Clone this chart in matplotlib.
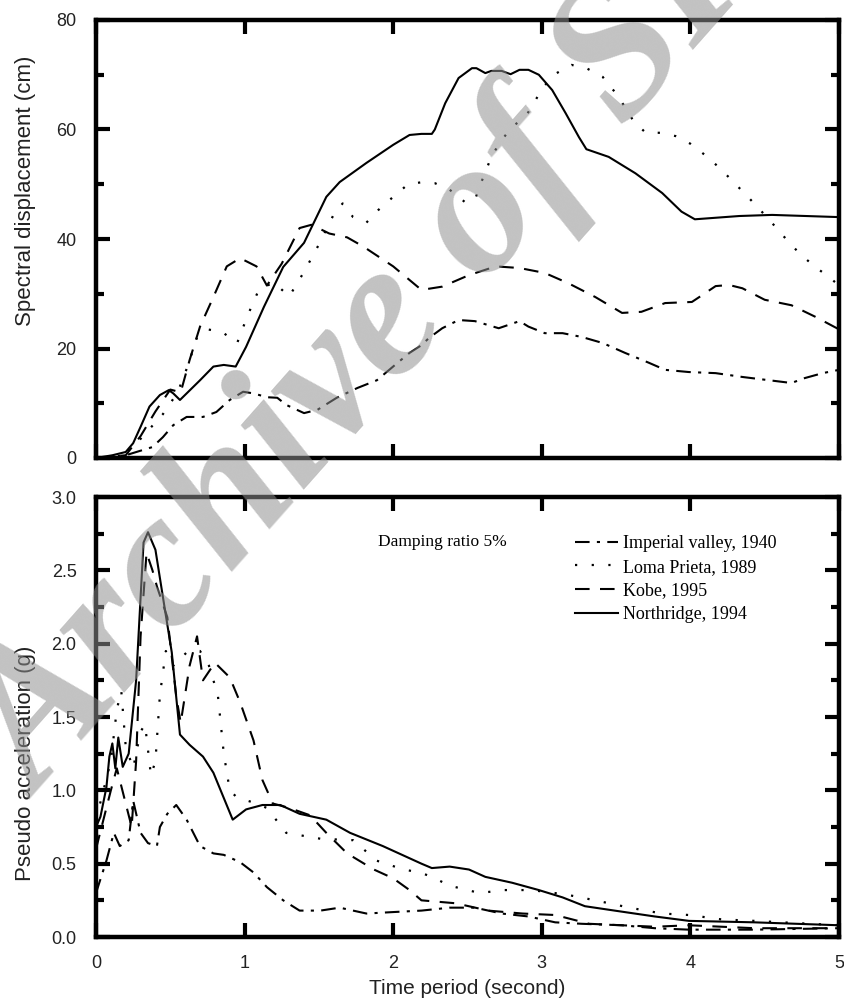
import matplotlib
matplotlib.use("Agg")
import matplotlib.pyplot as plt
from matplotlib.ticker import MultipleLocator

# ---------------- data ----------------
# Top: spectral displacement (cm)
sd_north_x = [0, 0.11, 0.2, 0.25, 0.3, 0.36, 0.43, 0.49, 0.52, 0.565, 0.61, 0.70, 0.79, 0.86, 0.94, 1.01, 1.13, 1.26, 1.40, 1.55, 1.64, 1.82, 2.0, 2.11, 2.19, 2.26, 2.28, 2.35, 2.44, 2.53, 2.56, 2.62, 2.66, 2.73, 2.79, 2.85, 2.91, 2.98, 3.07, 3.16, 3.25, 3.30, 3.45, 3.63, 3.81, 3.94, 4.03, 4.33, 4.55, 5.0]
sd_north_y = [0, 0.5, 1.1, 2.7, 5.7, 9.4, 11.5, 12.4, 11.8, 10.6, 11.8, 14.2, 16.7, 17.0, 16.7, 20.3, 27.6, 34.9, 39.3, 47.7, 50.4, 53.9, 57.2, 59.0, 59.2, 59.2, 60.0, 64.8, 69.4, 71.2, 71.2, 70.3, 70.7, 70.7, 70.1, 70.9, 70.9, 70.0, 67.2, 63.0, 58.6, 56.4, 55.0, 52.0, 48.4, 45.0, 43.6, 44.2, 44.4, 44.0]

sd_loma_x = [0, 0.15, 0.25, 0.35, 0.45, 0.55, 0.62, 0.68, 0.75, 0.85, 0.95, 1.02, 1.1, 1.2, 1.3, 1.4, 1.5, 1.6, 1.66, 1.73, 1.82, 1.9, 2.0, 2.1, 2.2, 2.28, 2.38, 2.48, 2.55, 2.58, 2.62, 2.66, 2.72, 2.80, 2.89, 2.95, 3.01, 3.10, 3.20, 3.30, 3.41, 3.49, 3.56, 3.62, 3.70, 3.80, 3.90, 4.0, 4.10, 4.20, 4.29, 4.38, 4.47, 4.56, 4.65, 4.74, 4.84, 4.94, 5.0]
sd_loma_y = [0, 0.3, 2.0, 5.0, 8.0, 12.0, 17.0, 22.0, 23.5, 23.0, 21.0, 26.0, 31.0, 32.0, 29.5, 34.0, 39.0, 44.5, 46.5, 44.0, 43.0, 45.3, 47.7, 50.0, 50.4, 50.2, 49.0, 46.8, 47.1, 49.5, 52.2, 55.0, 57.7, 60.5, 62.3, 65.0, 67.8, 70.3, 71.8, 71.2, 69.6, 66.9, 64.1, 61.4, 59.4, 59.4, 58.8, 57.4, 55.3, 52.9, 50.4, 47.9, 45.3, 42.6, 39.8, 37.2, 34.9, 32.9, 31.5]

sd_kobe_x = [0, 0.2, 0.3, 0.4, 0.5, 0.57, 0.63, 0.70, 0.79, 0.88, 0.97, 1.08, 1.15, 1.25, 1.37, 1.45, 1.57, 1.69, 1.80, 2.0, 2.19, 2.33, 2.51, 2.69, 2.85, 3.02, 3.18, 3.36, 3.54, 3.67, 3.83, 4.01, 4.06, 4.17, 4.26, 4.35, 4.50, 4.68, 4.84, 5.0]
sd_kobe_y = [0, 0.5, 4.0, 8.5, 12.5, 12.0, 17.9, 24.0, 29.4, 35.0, 36.5, 35.0, 31.5, 35.5, 42.0, 42.6, 41.0, 40.3, 38.6, 35.0, 30.7, 31.3, 33.4, 35.0, 34.7, 33.8, 31.9, 29.4, 26.5, 26.7, 28.3, 28.5, 29.4, 31.4, 31.6, 31.0, 28.9, 27.9, 25.8, 23.5]

sd_imp_x = [0, 0.2, 0.38, 0.45, 0.52, 0.61, 0.72, 0.81, 0.90, 0.99, 1.06, 1.15, 1.22, 1.28, 1.40, 1.49, 1.62, 1.76, 1.89, 2.03, 2.11, 2.19, 2.24, 2.33, 2.44, 2.55, 2.71, 2.85, 2.91, 3.02, 3.14, 3.27, 3.41, 3.56, 3.72, 3.83, 3.99, 4.17, 4.35, 4.53, 4.68, 4.77, 4.89, 5.0]
sd_imp_y = [0, 0.5, 2.0, 3.8, 6.0, 7.5, 7.5, 8.4, 10.6, 12.1, 11.8, 11.1, 11.0, 9.7, 8.2, 8.8, 11.0, 12.8, 14.2, 17.4, 19.2, 20.6, 21.9, 23.7, 25.2, 25.0, 23.7, 25.0, 24.0, 22.8, 22.8, 22.1, 21.0, 19.2, 17.4, 16.1, 15.7, 15.5, 14.8, 14.2, 13.7, 14.6, 15.5, 16.1]

# Bottom: pseudo acceleration (g)
pa_north_x = [0.0, 0.03, 0.07, 0.09, 0.11, 0.13, 0.15, 0.18, 0.22, 0.27, 0.32, 0.35, 0.40, 0.45, 0.51, 0.565, 0.63, 0.72, 0.79, 0.92, 1.01, 1.12, 1.24, 1.37, 1.55, 1.71, 1.93, 2.19, 2.26, 2.38, 2.51, 2.62, 2.80, 2.98, 3.14, 3.29, 3.49, 3.76, 3.99, 4.43, 5.0]
pa_north_y = [0.75, 0.82, 1.02, 1.23, 1.32, 1.15, 1.36, 1.16, 1.25, 1.75, 2.69, 2.76, 2.64, 2.32, 1.94, 1.38, 1.31, 1.23, 1.12, 0.80, 0.87, 0.90, 0.90, 0.84, 0.80, 0.71, 0.62, 0.50, 0.47, 0.48, 0.46, 0.41, 0.37, 0.32, 0.27, 0.21, 0.18, 0.14, 0.11, 0.10, 0.08]

pa_loma_x = [0.0, 0.05, 0.1, 0.14, 0.17, 0.2, 0.25, 0.3, 0.33, 0.37, 0.4, 0.43, 0.47, 0.52, 0.57, 0.62, 0.7, 0.76, 0.82, 0.86, 0.9, 0.95, 1.05, 1.15, 1.28, 1.51, 1.73, 1.89, 2.07, 2.18, 2.26, 2.38, 2.58, 2.75, 2.93, 3.16, 3.36, 3.59, 3.81, 3.99, 4.21, 4.43, 5.0]
pa_loma_y = [0.8, 1.0, 1.2, 1.55, 1.68, 1.3, 1.15, 1.4, 1.45, 1.1, 1.2, 1.65, 1.95, 1.85, 1.9, 1.95, 1.95, 1.85, 1.65, 1.25, 1.0, 0.95, 0.92, 0.88, 0.71, 0.67, 0.66, 0.52, 0.46, 0.44, 0.41, 0.35, 0.30, 0.32, 0.32, 0.29, 0.25, 0.20, 0.16, 0.15, 0.12, 0.11, 0.08]

pa_kobe_x = [0.0, 0.05, 0.1, 0.14, 0.19, 0.24, 0.27, 0.30, 0.34, 0.38, 0.41, 0.48, 0.54, 0.57, 0.63, 0.68, 0.72, 0.80, 0.90, 0.97, 1.06, 1.12, 1.19, 1.30, 1.44, 1.55, 1.69, 1.87, 2.0, 2.11, 2.19, 2.42, 2.64, 2.87, 3.09, 3.32, 3.54, 3.76, 3.99, 4.43, 5.0]
pa_kobe_y = [0.6, 0.8, 1.0, 1.15, 0.95, 0.75, 1.2, 2.05, 2.62, 2.5, 2.39, 2.18, 1.64, 1.46, 1.85, 2.05, 1.75, 1.87, 1.77, 1.6, 1.34, 1.07, 0.91, 0.88, 0.83, 0.71, 0.57, 0.46, 0.40, 0.32, 0.25, 0.23, 0.18, 0.16, 0.15, 0.09, 0.08, 0.07, 0.08, 0.06, 0.06]

pa_imp_x = [0.0, 0.07, 0.12, 0.16, 0.22, 0.25, 0.30, 0.35, 0.41, 0.43, 0.48, 0.54, 0.61, 0.70, 0.79, 0.86, 0.97, 1.06, 1.15, 1.26, 1.37, 1.51, 1.64, 1.82, 2.0, 2.19, 2.38, 2.55, 2.73, 2.91, 3.09, 3.27, 3.54, 3.76, 3.99, 4.43, 5.0]
pa_imp_y = [0.3, 0.52, 0.71, 0.62, 0.66, 0.93, 0.71, 0.64, 0.62, 0.75, 0.84, 0.90, 0.80, 0.62, 0.57, 0.56, 0.51, 0.44, 0.34, 0.25, 0.18, 0.18, 0.20, 0.16, 0.17, 0.18, 0.20, 0.20, 0.16, 0.14, 0.10, 0.09, 0.08, 0.06, 0.05, 0.05, 0.06]

labels = ["Imperial valley, 1940", "Loma Prieta, 1989", "Kobe, 1995", "Northridge, 1994"]
x_ticks = [0, 1, 2, 3, 4, 5]
sd_ticks = [0, 20, 40, 60, 80]
pa_ticks = [0.0, 0.5, 1.0, 1.5, 2.0, 2.5, 3.0]

# ---------------- styling ----------------
SANS = ["Liberation Sans", "DejaVu Sans"]
SERIF = ["Liberation Serif", "DejaVu Serif"]
styles = {
    "imp": dict(color="black", lw=1.5, ls=(0, (7, 3.5, 1.5, 3.5))),
    "loma": dict(color="black", lw=1.6, ls=(0, (1, 6.5))),
    "kobe": dict(color="black", lw=1.5, ls=(0, (7, 5))),
    "north": dict(color="black", lw=1.5, ls="-"),
}

fig = plt.figure(figsize=(8.44, 10.0), dpi=100)
ax1 = fig.add_axes([96 / 844, 1 - 458 / 1000, 743 / 844, 438 / 1000])
ax2 = fig.add_axes([96 / 844, 1 - 937 / 1000, 743 / 844, 440 / 1000])


def style_axes(ax, yticks, ymin_step, show_xlabels):
    for s in ax.spines.values():
        s.set_linewidth(3.2)
    ax.set_xlim(0, 5)
    ax.set_xticks(x_ticks)
    ax.set_yticks(yticks)
    ax.yaxis.set_minor_locator(MultipleLocator(ymin_step))
    ax.tick_params(which="major", direction="in", length=10, width=3,
                   top=True, right=True, labelsize=13, pad=14)
    ax.tick_params(which="minor", direction="in", length=5.5, width=3,
                   left=True, right=True, top=False, bottom=False)
    ax.tick_params(axis="x", which="major", pad=13)
    if not show_xlabels:
        ax.tick_params(axis="x", labelbottom=False)
    for lab in ax.get_xticklabels() + ax.get_yticklabels():
        lab.set_family(SANS)
        lab.set_color("#222222")


# top panel
ax1.plot(sd_imp_x, sd_imp_y, **styles["imp"])
ax1.plot(sd_loma_x, sd_loma_y, **styles["loma"])
ax1.plot(sd_kobe_x, sd_kobe_y, **styles["kobe"])
ax1.plot(sd_north_x, sd_north_y, **styles["north"])
ax1.set_ylim(0, 80)
style_axes(ax1, sd_ticks, 10, False)
ax1.set_ylabel("Spectral displacement (cm)", family=SANS, fontsize=16, color="#222222")
ax1.yaxis.set_label_coords(-0.081, 0.61)

# bottom panel
h1, = ax2.plot(pa_imp_x, pa_imp_y, **styles["imp"])
h2, = ax2.plot(pa_loma_x, pa_loma_y, **styles["loma"])
h3, = ax2.plot(pa_kobe_x, pa_kobe_y, **styles["kobe"])
h4, = ax2.plot(pa_north_x, pa_north_y, **styles["north"])
ax2.set_ylim(0, 3)
ax2.set_yticks(pa_ticks)
ax2.set_yticklabels([f"{v:.1f}" for v in pa_ticks])
style_axes(ax2, pa_ticks, 0.25, True)
ax2.set_ylabel("Pseudo acceleration (g)", family=SANS, fontsize=16, color="#222222")
ax2.yaxis.set_label_coords(-0.081, 0.395)
ax2.set_xlabel("Time period (second)", family=SANS, fontsize=15, color="#222222", labelpad=5)

leg = ax2.legend([h1, h2, h3, h4], labels, loc="upper left",
                 bbox_to_anchor=(0.645, 0.914), frameon=False,
                 prop={"family": SERIF, "size": 13},
                 handlelength=2.35, handletextpad=0.3, labelspacing=0.38,
                 borderpad=0, borderaxespad=0)

fig.text(378 / 844, 1 - 542 / 1000, "Damping ratio 5%", family=SERIF,
         fontsize=12.5, va="center", ha="left")

# watermark
fig.text(40 / 844, 1 - 800 / 1000, "Archive of SID", family=SERIF,
         weight="bold", style="italic", fontsize=140, rotation=48.5,
         rotation_mode="anchor", ha="left", va="baseline",
         color="#8f8f8f", alpha=0.54, zorder=10)

fig.savefig("out.png", dpi=100)
